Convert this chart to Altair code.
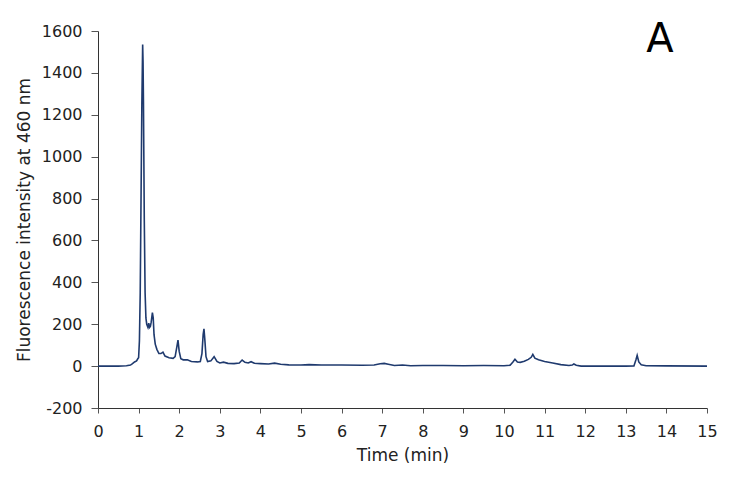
import altair as alt
import pandas as pd

times = [0, 0.5, 0.7, 0.8, 0.85, 0.9, 0.95, 0.98, 1.0, 1.02, 1.04, 1.06, 1.08, 1.1, 1.11,
         1.12, 1.14, 1.16, 1.18, 1.2, 1.23, 1.25, 1.27, 1.29, 1.31, 1.34, 1.36, 1.38, 1.41,
         1.45, 1.5, 1.55, 1.6, 1.65, 1.75, 1.85, 1.9, 1.94, 1.97, 2.0, 2.04, 2.1, 2.2, 2.3,
         2.45, 2.52, 2.56, 2.59, 2.61, 2.63, 2.66, 2.7, 2.78, 2.86, 2.93, 3.0, 3.09, 3.2,
         3.35, 3.48, 3.55, 3.62, 3.7, 3.77, 3.85, 4.0, 4.2, 4.35, 4.5, 4.7, 5.0, 5.2, 5.5,
         6.0, 6.5, 6.8, 6.95, 7.05, 7.15, 7.3, 7.5, 7.7, 8.0, 8.5, 9.0, 9.5, 10.0, 10.15,
         10.22, 10.27, 10.33, 10.4, 10.5, 10.6, 10.67, 10.71, 10.76, 10.85, 11.0, 11.2,
         11.4, 11.6, 11.68, 11.72, 11.78, 11.9, 12.5, 13.0, 13.2, 13.25, 13.28, 13.32,
         13.38, 13.5, 14.0, 15.0]
intensity = [0, 0, 2, 5, 12, 20, 25, 35, 40, 120, 350, 800, 1250, 1535, 1450,
             1250, 700, 350, 230, 200, 185, 205, 185, 190, 210, 256, 230, 150, 105,
             80, 60, 60, 67, 48, 40, 37, 45, 90, 124, 70, 35, 30, 30, 22,
             20, 22, 60, 150, 178, 130, 45, 22, 25, 45, 22, 15, 19, 13,
             12, 15, 29, 18, 15, 21, 14, 12, 10, 14, 9, 6, 5, 7, 5,
             5, 4, 5, 11, 13, 9, 3, 5, 2, 3, 3, 2, 3, 2, 4,
             20, 33, 20, 18, 23, 32, 42, 56, 38, 30, 22, 15,
             7, 3, 5, 10, 4, 0, 0, 0, 1, 30, 51, 20,
             6, 2, 1, 0]

x_ticks = list(range(0, 16))
y_ticks = list(range(-200, 1601, 200))
panel_label = ["A"]

FONT = "DejaVu Sans"
df = pd.DataFrame({"time": times, "intensity": intensity})

line = alt.Chart(df).mark_line(color="#1f3a6e", strokeWidth=1.6).encode(
    x=alt.X("time:Q", scale=alt.Scale(domain=[0, 15], nice=False),
            axis=alt.Axis(values=x_ticks, title="Time (min)", grid=False,
                          tickSize=5, labelPadding=10, titlePadding=8,
                          labelFlush=False, labelExpr="'' + datum.value")),
    y=alt.Y("intensity:Q", scale=alt.Scale(domain=[-200, 1600], nice=False),
            axis=alt.Axis(values=y_ticks, title="Fluorescence intensity at 460 nm",
                          grid=False, tickSize=7, labelPadding=9, titlePadding=8,
                          labelExpr="'' + datum.value")),
)

label = alt.Chart(pd.DataFrame({"label": panel_label})).mark_text(
    fontSize=40, font=FONT, color="#000000", align="center", baseline="alphabetic"
).encode(text="label:N", x=alt.value(562), y=alt.value(21))

chart = alt.layer(line, label).properties(
    width=609, height=377,
    autosize=alt.AutoSizeParams(type="none"),
    padding={"left": 90, "top": 23, "right": 14, "bottom": 70},
).configure_view(stroke=None).configure_axis(
    labelFont=FONT, titleFont=FONT, labelFontSize=16, titleFontSize=17,
    labelColor="#222222", titleColor="#222222", titleFontWeight="normal",
    domainColor="#333333", tickColor="#555555", domainWidth=1, tickWidth=1,
)

chart.save("out.html", embed_options={"renderer": "svg", "actions": False})
